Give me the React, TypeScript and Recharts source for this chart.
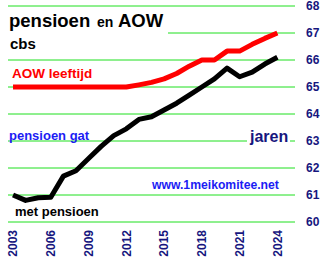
import { CartesianGrid, Line, LineChart, XAxis, YAxis } from 'recharts'

const years = [2003, 2004, 2005, 2006, 2007, 2008, 2009, 2010, 2011, 2012, 2013, 2014, 2015, 2016, 2017, 2018, 2019, 2020, 2021, 2022, 2023, 2024]
const aowAge = [65, 65, 65, 65, 65, 65, 65, 65, 65, 65, 65.08, 65.17, 65.3, 65.5, 65.77, 66, 66, 66.33, 66.33, 66.58, 66.8, 67]
const pensionAge = [61, 60.8, 60.9, 60.92, 61.7, 61.9, 62.35, 62.8, 63.2, 63.45, 63.8, 63.9, 64.15, 64.4, 64.7, 65.0, 65.3, 65.7, 65.38, 65.55, 65.85, 66.1]
const yearTicks = [2003, 2006, 2009, 2012, 2015, 2018, 2021, 2024]
const ageTicks = [60, 61, 62, 63, 64, 65, 66, 67, 68]

const data = years.map((year, i) => ({ year, aow: aowAge[i], pensioen: pensionAge[i] }))

const FONT = 'Arial, "Liberation Sans", sans-serif'
const NAVY = '#16167e'
const BLUE = '#1c1cf4'

function YearTick(props: any) {
  const { x, y, payload } = props
  return (
    <text
      x={x}
      y={y}
      dy="0.36em"
      transform={`rotate(-90, ${x}, ${y})`}
      textAnchor="end"
      fill={NAVY}
      fontSize={12}
      fontWeight="bold"
      fontFamily={FONT}
    >
      {payload.value}
    </text>
  )
}

export default function App() {
  return (
    <div style={{ position: 'absolute', left: 0, top: 0, width: 333, height: 265, background: '#fff' }}>
      <LineChart width={333} height={265} data={data} margin={{ top: 6, right: 0, left: 8, bottom: 0 }}>
        <CartesianGrid horizontal vertical={false} stroke="#1ee01e" strokeWidth={1} />
        <XAxis
          dataKey="year"
          type="number"
          domain={[2002.6, 2025.4]}
          ticks={yearTicks}
          axisLine={false}
          tickLine={false}
          tickSize={0}
          tickMargin={8}
          height={43}
          interval={0}
          tick={(p: any) => <YearTick {...p} />}
        />
        <YAxis
          orientation="right"
          domain={[60, 68]}
          ticks={ageTicks}
          axisLine={false}
          tickLine={false}
          tickSize={0}
          tickMargin={11}
          width={38}
          interval={0}
          tick={{ fill: NAVY, fontSize: 12, fontWeight: 'bold', fontFamily: FONT }}
        />
        <Line type="linear" dataKey="aow" stroke="#ff0000" strokeWidth={5} dot={false} isAnimationActive={false} strokeLinejoin="round" />
        <Line type="linear" dataKey="pensioen" stroke="#000000" strokeWidth={5} dot={false} isAnimationActive={false} strokeLinejoin="round" />
      </LineChart>
      <svg width={333} height={265} style={{ position: 'absolute', left: 0, top: 0, pointerEvents: 'none' }} fontFamily={FONT} fontWeight="bold">
        <rect x={8} y={10} width={160} height={44} fill="#fff" />
        <text x={9} y={27} fontSize={18.5} fill="#000">pensioen</text>
        <text x={97} y={27} fontSize={14} fill="#000">en</text>
        <text x={118} y={27} fontSize={18.5} fill="#000">AOW</text>
        <text x={10} y={49} fontSize={15} fill="#000">cbs</text>
        <text x={12} y={78} fontSize={13.5} fill="#ff0000">AOW leeftijd</text>
        <text x={9} y={140} fontSize={13} fill={BLUE}>pensioen gat</text>
        <rect x={247} y={128} width={43} height={18} fill="#fff" />
        <text x={250} y={141.5} fontSize={16} fill={NAVY}>jaren</text>
        <text x={152} y={189} fontSize={12.2} fill={BLUE}>www.1meikomitee.net</text>
        <text x={15} y={215.5} fontSize={13} fill="#000">met pensioen</text>
      </svg>
    </div>
  )
}
